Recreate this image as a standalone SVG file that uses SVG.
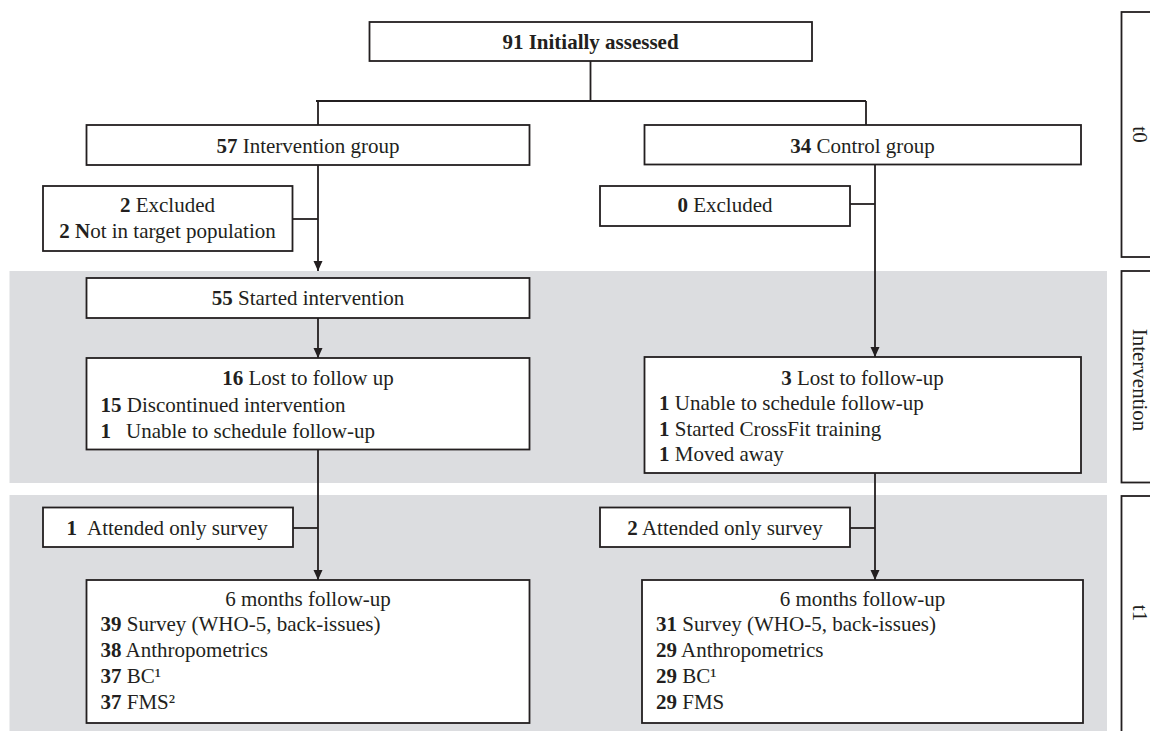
<svg xmlns="http://www.w3.org/2000/svg" width="1150" height="731" viewBox="0 0 1150 731">
<style>
text{font-family:"Liberation Serif","Times New Roman",serif;font-size:21px;fill:#231f20}
.b{font-weight:bold}
.c{text-anchor:middle}
.box{fill:#ffffff;stroke:#231f20;stroke-width:1.8}
.band{fill:#dcdde0}
.ln{fill:none;stroke:#231f20;stroke-width:1.8}
</style>
<defs>
<marker id="ah" viewBox="0 0 10 10" refX="10" refY="5" markerWidth="10" markerHeight="10" markerUnits="userSpaceOnUse" orient="auto">
<path d="M0,0.5 L10,5 L0,9.5 z" fill="#231f20"/>
</marker>
</defs>
<rect width="1150" height="731" fill="#ffffff"/>
<g id="bands">
<rect class="band" x="9.5" y="271" width="1097.5" height="212"/>
<rect class="band" x="9.5" y="495" width="1097.5" height="236"/>
</g>
<g id="phase-t0"><rect class="box" x="1121.5" y="12" width="45" height="245"/><text transform="translate(1133,134.5) rotate(90)" class="c">t0</text></g>
<g id="phase-intervention"><rect class="box" x="1121.5" y="271" width="45" height="211.5"/><text transform="translate(1133,380) rotate(90)" class="c">Intervention</text></g>
<g id="phase-t1"><rect class="box" x="1121.5" y="496" width="45" height="250"/><text transform="translate(1133,613) rotate(90)" class="c">t1</text></g>
<g id="connectors">
<path class="ln" d="M590.5,61 V101 M316,101 H866 M318,101 V125 M866,101 V125"/>
<path class="ln" d="M318,165 V271" marker-end="url(#ah)"/>
<path class="ln" d="M292.5,219 H318"/>
<path class="ln" d="M875,164.5 V357" marker-end="url(#ah)"/>
<path class="ln" d="M850,204 H875"/>
<path class="ln" d="M318,318 V358" marker-end="url(#ah)"/>
<path class="ln" d="M318,449.5 V580" marker-end="url(#ah)"/>
<path class="ln" d="M293,528 H318"/>
<path class="ln" d="M875,473 V580" marker-end="url(#ah)"/>
<path class="ln" d="M850,528 H875"/>
</g>
<g id="assessed"><rect class="box" x="369.5" y="22" width="442.5" height="39"/><text x="590.5" y="49" class="c b">91 Initially assessed</text></g>
<g id="intervention-group"><rect class="box" x="86.5" y="125" width="443" height="40"/><text x="308" y="153" class="c"><tspan class="b">57</tspan> Intervention group</text></g>
<g id="control-group"><rect class="box" x="644.5" y="125" width="436.5" height="39.5"/><text x="862.5" y="153" class="c"><tspan class="b">34</tspan> Control group</text></g>
<g id="excluded-int"><rect class="box" x="43" y="186" width="249.5" height="65"/><text x="167.5" y="212" class="c"><tspan class="b">2</tspan> Excluded</text><text x="167.5" y="238" class="c"><tspan class="b">2 N</tspan>ot in target population</text></g>
<g id="excluded-ctrl"><rect class="box" x="600" y="186" width="250" height="40"/><text x="725" y="212" class="c"><tspan class="b">0</tspan> Excluded</text></g>
<g id="started"><rect class="box" x="86.5" y="278" width="443" height="40"/><text x="308" y="305" class="c"><tspan class="b">55</tspan> Started intervention</text></g>
<g id="lost-int"><rect class="box" x="86.5" y="358" width="443" height="91.5"/>
<text x="308" y="385" class="c"><tspan class="b">16</tspan> Lost to follow up</text>
<text x="100.5" y="411.5"><tspan class="b">15</tspan> Discontinued intervention</text>
<text x="100.5" y="437.5"><tspan class="b">1</tspan><tspan x="126">Unable to schedule follow-up</tspan></text></g>
<g id="lost-ctrl"><rect class="box" x="644.5" y="357" width="436.5" height="116"/>
<text x="862.5" y="385" class="c"><tspan class="b">3</tspan> Lost to follow-up</text>
<text x="659" y="410"><tspan class="b">1</tspan> Unable to schedule follow-up</text>
<text x="659" y="435.5"><tspan class="b">1</tspan> Started CrossFit training</text>
<text x="659" y="461"><tspan class="b">1</tspan> Moved away</text></g>
<g id="survey-int"><rect class="box" x="43" y="507.5" width="250" height="39.5"/><text x="66.5" y="535"><tspan class="b">1</tspan><tspan x="87">Attended only survey</tspan></text></g>
<g id="survey-ctrl"><rect class="box" x="600" y="507.5" width="250" height="39.5"/><text x="725" y="535" class="c"><tspan class="b">2</tspan> Attended only survey</text></g>
<g id="followup-int"><rect class="box" x="86.5" y="580" width="443" height="143"/>
<text x="308" y="605.5" class="c">6 months follow-up</text>
<text x="100.5" y="631"><tspan class="b">39</tspan> Survey (WHO-5, back-issues)</text>
<text x="100.5" y="657"><tspan class="b">38</tspan> Anthropometrics</text>
<text x="100.5" y="683"><tspan class="b">37</tspan> BC¹</text>
<text x="100.5" y="708.5"><tspan class="b">37</tspan> FMS²</text></g>
<g id="followup-ctrl"><rect class="box" x="642" y="580" width="441" height="143"/>
<text x="862.5" y="605.5" class="c">6 months follow-up</text>
<text x="656" y="631"><tspan class="b">31</tspan> Survey (WHO-5, back-issues)</text>
<text x="656" y="657"><tspan class="b">29</tspan> Anthropometrics</text>
<text x="656" y="683"><tspan class="b">29</tspan> BC¹</text>
<text x="656" y="708.5"><tspan class="b">29</tspan> FMS</text></g>
</svg>
